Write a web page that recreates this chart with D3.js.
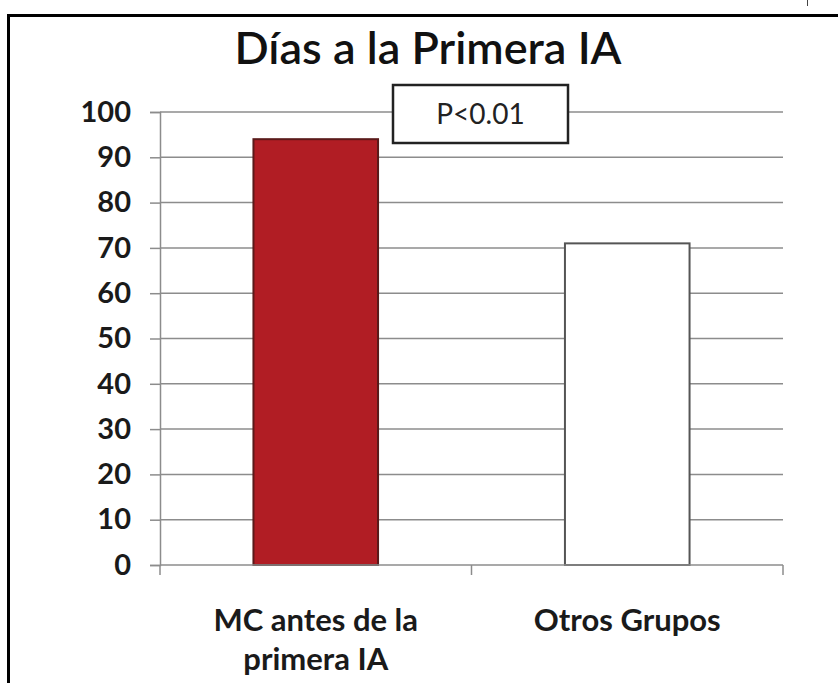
<!DOCTYPE html>
<html><head><meta charset="utf-8">
<script src="https://cdn.jsdelivr.net/npm/d3@7"></script>
<style>html,body{margin:0;padding:0;background:#fff;}</style>
</head><body>
<svg id="chart" width="838" height="683"></svg>
<script>
const title = "Días a la Primera IA";
const categories = ["MC antes de la\nprimera IA", "Otros Grupos"];
const values = [94, 71];
const fills = ["#b11d24", "#ffffff"];
const strokes = ["#5a1a1a", "#555555"];
const yTicks = [0,10,20,30,40,50,60,70,80,90,100];
const annotation = "P<0.01";

const svg = d3.select("#chart");
const font = "Lato, 'Open Sans', sans-serif";

// frame
svg.append("line").attr("x1",8.5).attr("x2",8.5).attr("y1",14).attr("y2",683).attr("stroke","#000").attr("stroke-width",3);
svg.append("line").attr("x1",7).attr("x2",838).attr("y1",15.5).attr("y2",15.5).attr("stroke","#000").attr("stroke-width",3);
svg.append("line").attr("x1",807.5).attr("x2",807.5).attr("y1",0).attr("y2",6).attr("stroke","#444").attr("stroke-width",1);

const x = d3.scaleBand().domain(categories).range([160, 783]).paddingInner(0.6).paddingOuter(0.3);
const y = d3.scaleLinear().domain([0,100]).range([565, 112]);

// grid
svg.append("g").selectAll("line").data(yTicks.filter(d=>d>0)).join("line")
  .attr("x1",160).attr("x2",783).attr("y1",d=>y(d)).attr("y2",d=>y(d))
  .attr("stroke","#8c8c8c").attr("stroke-width",1.5);

// y axis
const yAxis = svg.append("g").attr("transform","translate(160,0)")
  .call(d3.axisLeft(y).tickValues(yTicks).tickSize(10).tickPadding(19));
yAxis.select(".domain").attr("stroke","#8c8c8c").attr("stroke-width",1.5);
yAxis.selectAll(".tick line").attr("stroke","#8c8c8c").attr("stroke-width",1.5);
yAxis.selectAll("text").attr("font-family",font).attr("font-weight","bold").attr("font-size",29).attr("fill","#1a1a1a");

// bars
svg.append("g").selectAll("rect").data(values).join("rect")
  .attr("x",(d,i)=>x(categories[i])).attr("width",x.bandwidth())
  .attr("y",d=>y(d)).attr("height",d=>y(0)-y(d))
  .attr("fill",(d,i)=>fills[i]).attr("stroke",(d,i)=>strokes[i]).attr("stroke-width",2);

// x axis
const xb = d3.scaleLinear().domain([0, categories.length]).range([160,783]);
svg.append("line").attr("x1",160).attr("x2",783).attr("y1",y(0)).attr("y2",y(0)).attr("stroke","#8c8c8c").attr("stroke-width",1.5);
svg.append("g").selectAll("line").data(d3.range(categories.length+1)).join("line")
  .attr("x1",d=>xb(d)).attr("x2",d=>xb(d)).attr("y1",y(0)).attr("y2",y(0)+10)
  .attr("stroke","#8c8c8c").attr("stroke-width",1.5);

// x labels
svg.append("g").selectAll("text").data(categories).join("text")
  .attr("x",d=>x(d)+x.bandwidth()/2).attr("y",631)
  .attr("text-anchor","middle").attr("font-family",font).attr("font-weight","bold").attr("font-size",31).attr("fill","#1a1a1a")
  .each(function(d){
    const lines = d.split("\n");
    d3.select(this).selectAll("tspan").data(lines).join("tspan")
      .attr("x",x(d)+x.bandwidth()/2).attr("dy",(l,i)=>i===0?0:39).text(l=>l);
  });

// title
svg.append("text").attr("x",428).attr("y",64).attr("text-anchor","middle")
  .attr("font-family",font).attr("font-size",45).attr("font-weight","600").attr("fill","#111").text(title);

// annotation box
svg.append("rect").attr("x",393).attr("y",85).attr("width",175).attr("height",58)
  .attr("fill","#fff").attr("stroke","#222").attr("stroke-width",2.5);
svg.append("text").attr("x",480.5).attr("y",124).attr("text-anchor","middle")
  .attr("font-family",font).attr("font-size",28).attr("fill","#222").text(annotation);
</script>
</body></html>
